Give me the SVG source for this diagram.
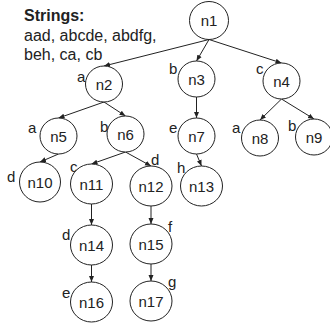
<svg xmlns="http://www.w3.org/2000/svg" width="330" height="328" viewBox="0 0 330 328">
<defs>
<marker id="ah" viewBox="0 0 6 6" refX="6" refY="3" markerWidth="6" markerHeight="6" markerUnits="userSpaceOnUse" orient="auto">
<path d="M0,0.5 L6,3 L0,5.5 Z" fill="#222"/>
</marker>
<style>
.n ellipse{fill:#fff;stroke:#222;stroke-width:1}
.n text{font-family:"Liberation Sans",Arial,sans-serif;font-size:15px;fill:#222;text-anchor:middle}
.e line{stroke:#222;stroke-width:1;marker-end:url(#ah)}
.lb{font-family:"Liberation Sans",Arial,sans-serif;font-size:15px;fill:#222}
.hd{font-family:"Liberation Sans",Arial,sans-serif;font-size:16px;fill:#222}
</style>
</defs>
<rect width="330" height="328" fill="#fff"/>
<g id="header">
<text class="hd" x="24" y="21" font-weight="bold">Strings:</text>
<text class="hd" x="24" y="41">aad, abcde, abdfg,</text>
<text class="hd" x="24" y="60">beh, ca, cb</text>
</g>
<g id="connectors" class="e">
<line x1="209" y1="39.5" x2="104" y2="66"/>
<line x1="209" y1="39.5" x2="196.5" y2="61"/>
<line x1="209" y1="39.5" x2="281.5" y2="63"/>
<line x1="104" y1="102" x2="58.5" y2="118"/>
<line x1="104" y1="102" x2="125.5" y2="116"/>
<line x1="196.5" y1="97" x2="196.5" y2="118"/>
<line x1="281.5" y1="99" x2="260" y2="120"/>
<line x1="281.5" y1="99" x2="314" y2="119"/>
<line x1="58.5" y1="154" x2="40" y2="162"/>
<line x1="125.5" y1="152" x2="91.5" y2="164"/>
<line x1="125.5" y1="152" x2="151" y2="166"/>
<line x1="196.5" y1="154" x2="201.5" y2="166"/>
<line x1="91.5" y1="204" x2="91.5" y2="225"/>
<line x1="151" y1="206" x2="151" y2="224"/>
<line x1="91.5" y1="265" x2="91.5" y2="282"/>
<line x1="151" y1="264" x2="151" y2="281"/>
</g>
<g id="labels">
<text class="lb" x="77" y="82">a</text>
<text class="lb" x="169" y="74">b</text>
<text class="lb" x="256" y="74">c</text>
<text class="lb" x="28" y="133">a</text>
<text class="lb" x="100" y="132">b</text>
<text class="lb" x="169" y="133">e</text>
<text class="lb" x="232" y="133">a</text>
<text class="lb" x="288" y="131">b</text>
<text class="lb" x="7" y="182">d</text>
<text class="lb" x="70" y="172">c</text>
<text class="lb" x="151" y="165">d</text>
<text class="lb" x="177" y="173">h</text>
<text class="lb" x="62" y="240">d</text>
<text class="lb" x="168" y="232">f</text>
<text class="lb" x="62" y="298">e</text>
<text class="lb" x="168" y="287">g</text>
</g>
<g id="n1" class="n"><ellipse cx="209" cy="20.5" rx="19.5" ry="19"/><text x="209" y="26">n1</text></g>
<g id="n2" class="n"><ellipse cx="104" cy="84" rx="18.5" ry="18"/><text x="104" y="89.5">n2</text></g>
<g id="n3" class="n"><ellipse cx="196.5" cy="79" rx="18.5" ry="18"/><text x="196.5" y="84.5">n3</text></g>
<g id="n4" class="n"><ellipse cx="281.5" cy="81" rx="18.5" ry="18"/><text x="281.5" y="86.5">n4</text></g>
<g id="n5" class="n"><ellipse cx="58.5" cy="136" rx="18.5" ry="18"/><text x="58.5" y="141.5">n5</text></g>
<g id="n6" class="n"><ellipse cx="125.5" cy="134" rx="18.5" ry="18"/><text x="125.5" y="139.5">n6</text></g>
<g id="n7" class="n"><ellipse cx="196.5" cy="136" rx="18.5" ry="18"/><text x="196.5" y="141.5">n7</text></g>
<g id="n8" class="n"><ellipse cx="260" cy="138" rx="18.5" ry="18"/><text x="260" y="143.5">n8</text></g>
<g id="n9" class="n"><ellipse cx="314" cy="137" rx="18.5" ry="18"/><text x="314" y="142.5">n9</text></g>
<g id="n10" class="n"><ellipse cx="40" cy="182" rx="20.5" ry="20"/><text x="40" y="187.5">n10</text></g>
<g id="n11" class="n"><ellipse cx="91.5" cy="184" rx="21" ry="20"/><text x="91.5" y="189.5">n11</text></g>
<g id="n12" class="n"><ellipse cx="151" cy="186" rx="21" ry="20"/><text x="151" y="191.5">n12</text></g>
<g id="n13" class="n"><ellipse cx="201.5" cy="186" rx="21" ry="20"/><text x="201.5" y="191.5">n13</text></g>
<g id="n14" class="n"><ellipse cx="91.5" cy="245" rx="21" ry="20"/><text x="91.5" y="250.5">n14</text></g>
<g id="n15" class="n"><ellipse cx="151" cy="244" rx="21" ry="20"/><text x="151" y="249.5">n15</text></g>
<g id="n16" class="n"><ellipse cx="91.5" cy="302" rx="21" ry="20"/><text x="91.5" y="307.5">n16</text></g>
<g id="n17" class="n"><ellipse cx="151" cy="301" rx="21" ry="20"/><text x="151" y="306.5">n17</text></g>
</svg>
